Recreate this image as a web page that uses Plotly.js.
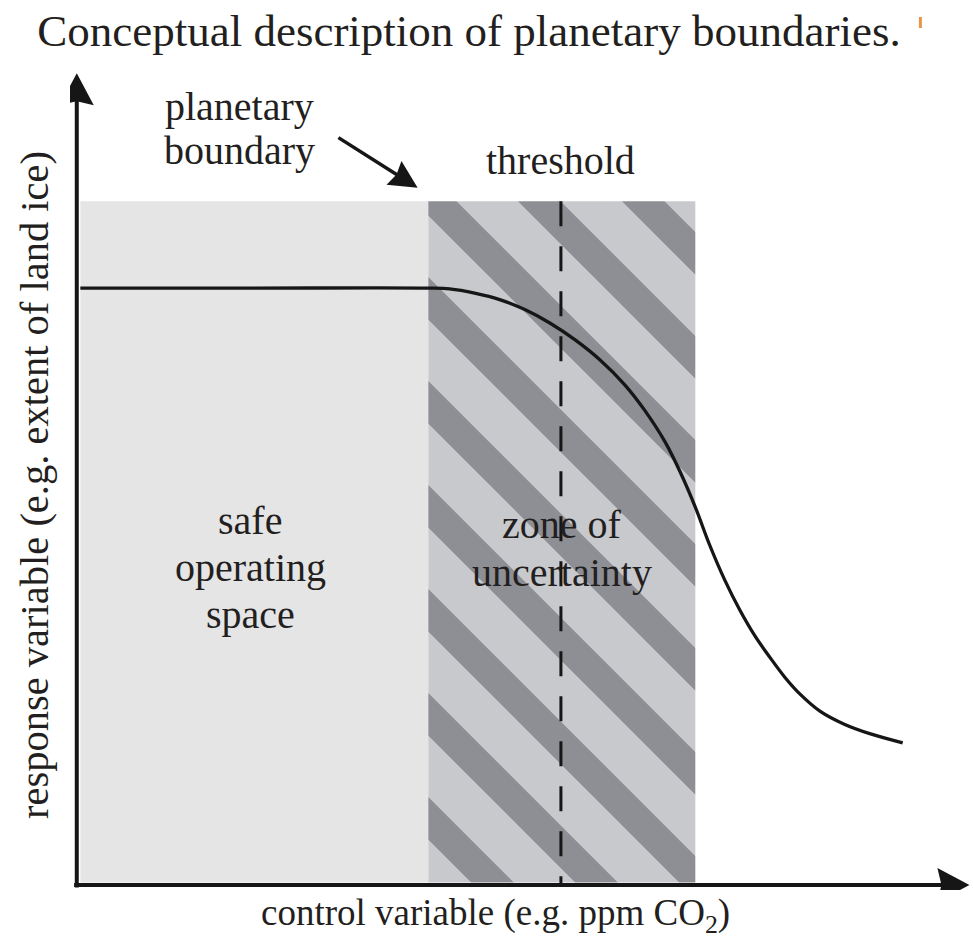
<!DOCTYPE html>
<html><head><meta charset="utf-8">
<script src="https://cdn.plot.ly/plotly-3.0.1.min.js"></script>
<style>html,body{margin:0;padding:0;background:#fff;}</style>
</head><body>
<div id="chart" style="width:973px;height:940px;"></div>
<script>
// Response curve (conceptual units: x = control variable, y = response variable)
const curveX = [0.06, 1.97, 3.97, 4.21, 4.49, 4.78, 5.06, 5.34, 5.62, 5.90, 6.18, 6.40, 6.63, 6.80, 6.97, 7.13, 7.30, 7.47, 7.64, 7.81, 7.98, 8.15, 8.37, 8.65, 8.93, 9.30];
const curveY = [7.14, 7.14, 7.14, 7.13, 7.08, 7.00, 6.88, 6.72, 6.52, 6.28, 5.98, 5.68, 5.30, 4.94, 4.52, 4.07, 3.65, 3.29, 2.98, 2.72, 2.48, 2.28, 2.08, 1.92, 1.81, 1.70];

// Zones
const safeStart = 0.06;
const boundaryX = 3.97;
const thresholdX = 5.46;
const uncertaintyEnd = 6.97;
const zoneTop = 8.18;
const zoneBottom = 0.03;

// Axes (conceptual, with arrows)
const xRange = [-0.0562, 10.079];
const yRange = [-0.0598, 10.06];
const yAxisArrow = { x: [0.02, 0.02], y: [-0.03, 9.71] };
const xAxisArrow = { x: [-0.01, 10.05], y: [0, 0] };
const pointerArrow = { x: [2.96, 3.85], y: [8.94, 8.34] };

// Labels
const titleText = 'Conceptual description of planetary boundaries.';
const xLabel = 'control variable (e.g. ppm CO<sub>2</sub>)';
const yLabel = 'response variable (e.g. extent of land ice)';
const boundaryLines = ['planetary', 'boundary'];
const thresholdLabel = 'threshold';
const safeLines = ['safe', 'operating', 'space'];
const zoneLines = ['zone of', 'uncertainty'];

const FONT = '"Liberation Serif", "Times New Roman", serif';
const TXT = '#231f20';
const INK = '#161616';

const W = 973, H = 940;
const margin = { l: 70, r: 1, t: 44, b: 50, pad: 0 };
const plotW = W - margin.l - margin.r, plotH = H - margin.t - margin.b;
const pxX = plotW / (xRange[1] - xRange[0]);
const pxY = plotH / (yRange[1] - yRange[0]);

const traces = [
  { type: 'scatter', mode: 'lines', hoverinfo: 'skip', showlegend: false,
    x: [safeStart, boundaryX, boundaryX, safeStart], y: [zoneBottom, zoneBottom, zoneTop, zoneTop],
    fill: 'toself', fillcolor: '#e5e5e6', line: { width: 0 } },
  { type: 'scatter', mode: 'lines', hoverinfo: 'skip', showlegend: false,
    x: [boundaryX, uncertaintyEnd, uncertaintyEnd, boundaryX], y: [zoneBottom, zoneBottom, zoneTop, zoneTop],
    fill: 'toself', fillcolor: '#c8c9cc', line: { width: 0 },
    fillpattern: { shape: '\\', size: 104 / Math.SQRT2, solidity: 0.41, fgcolor: '#8e8f94', bgcolor: '#c8c9cc', fillmode: 'replace' } },
  { type: 'scatter', mode: 'lines', hoverinfo: 'skip', showlegend: false,
    x: [thresholdX, thresholdX], y: [zoneTop, 0],
    line: { color: INK, width: 3, dash: '25px,20px' } },
  { type: 'scatter', mode: 'lines', hoverinfo: 'skip', showlegend: false,
    x: curveX, y: curveY, line: { color: INK, width: 3.3, shape: 'spline', smoothing: 1, simplify: false } }
];
const shapes = [
  { type: 'line', xref: 'paper', yref: 'paper', x0: 0.9428, x1: 0.9428,
    y0: 1 + (margin.t - 17) / plotH, y1: 1 + (margin.t - 28) / plotH,
    line: { color: '#e8954a', width: 3 } }
];

// build an arrow: line (ending at head notch) + filled head path
function arrow(a, lenPx, halfPx, notchPx, width) {
  const fx = a.x[0], fy = a.y[0], tx = a.x[1], ty = a.y[1];
  const dxp = (tx - fx) * pxX, dyp = (ty - fy) * pxY;
  const L = Math.hypot(dxp, dyp);
  const ux = dxp / L, uy = dyp / L;
  const nx = -uy, ny = ux;
  const P = (along, side) => [tx + (-along * ux + side * nx) / pxX, ty + (-along * uy + side * ny) / pxY];
  const b1 = P(lenPx, halfPx), b2 = P(lenPx, -halfPx), nt = P(lenPx - notchPx, 0);
  const lineEnd = P(lenPx - notchPx - 1, 0);
  traces.push({ type: 'scatter', mode: 'lines', hoverinfo: 'skip', showlegend: false,
    x: [fx, lineEnd[0]], y: [fy, lineEnd[1]], line: { color: INK, width: width } });
  shapes.push({ type: 'path', xref: 'x', yref: 'y', layer: 'above',
    path: `M${tx},${ty} L${b1[0]},${b1[1]} L${nt[0]},${nt[1]} L${b2[0]},${b2[1]} Z`,
    fillcolor: INK, line: { width: 0 } });
}
arrow(yAxisArrow, 32, 17, 4, 4);
arrow(xAxisArrow, 32, 17, 4, 4);
arrow(pointerArrow, 28, 14, 3, 3.5);

const ann = [];
function lineLabels(lines, cx, cy, spacingData, size) {
  const n = lines.length;
  lines.forEach((t, i) => {
    ann.push({ x: cx, y: cy + ((n - 1) / 2 - i) * spacingData, xref: 'x', yref: 'y',
      text: t, showarrow: false, xanchor: 'center', yanchor: 'middle',
      font: { family: FONT, size: size, color: TXT } });
  });
}
lineLabels(safeLines, 1.97, 3.80, 0.562, 40);
lineLabels(zoneLines, 5.47, 4.02, 0.574, 40);
lineLabels(boundaryLines, 1.85, 9.05, 0.52, 40);
ann.push({ x: thresholdX, y: 8.67, xref: 'x', yref: 'y', text: thresholdLabel, showarrow: false,
  xanchor: 'center', yanchor: 'middle', font: { family: FONT, size: 40, color: TXT } });

// axis titles (placed in paper coordinates of the plot area)
ann.push({ x: (495 - margin.l) / plotW, y: 1 - (915 - margin.t) / plotH, xref: 'paper', yref: 'paper',
  text: xLabel, showarrow: false, xanchor: 'center', yanchor: 'middle',
  font: { family: FONT, size: 37, color: TXT } });
ann.push({ x: (34 - margin.l) / plotW, y: 1 - (485 - margin.t) / plotH, xref: 'paper', yref: 'paper',
  text: yLabel, showarrow: false, textangle: -90, xanchor: 'center', yanchor: 'middle',
  font: { family: FONT, size: 40.5, color: TXT } });

const layout = {
  width: W, height: H,
  margin: margin,
  paper_bgcolor: '#ffffff', plot_bgcolor: '#ffffff',
  title: { text: titleText, x: 0.482, xref: 'container', xanchor: 'center',
    y: 0.968, yref: 'container', yanchor: 'middle',
    font: { family: FONT, size: 45, color: TXT } },
  xaxis: { visible: false, range: xRange, showgrid: false, zeroline: false, fixedrange: true },
  yaxis: { visible: false, range: yRange, showgrid: false, zeroline: false, fixedrange: true },
  showlegend: false,
  annotations: ann,
  shapes: shapes
};

Plotly.newPlot('chart', traces, layout, { displayModeBar: false, staticPlot: true });
</script>
</body></html>
